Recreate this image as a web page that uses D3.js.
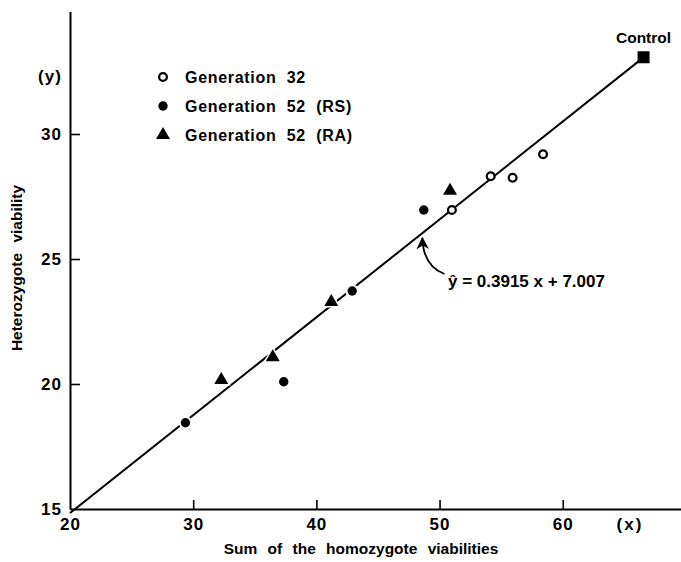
<!DOCTYPE html>
<html>
<head>
<meta charset="utf-8">
<script src="https://cdn.jsdelivr.net/npm/d3@7"></script>
<style>
  body { margin: 0; background: #fff; }
  svg text { font-family: "Liberation Sans", Arial, sans-serif; font-weight: bold; fill: #000; }
</style>
</head>
<body>
<div></div>
<script>
var width = 681;
var height = 562;

// data
var gen32X = [51.0, 54.15, 55.93, 58.4];
var gen32Y = [26.96, 28.31, 28.25, 29.19];
var rsX = [29.37, 37.35, 42.91, 48.72];
var rsY = [18.45, 20.09, 23.72, 26.96];
var raX = [32.28, 36.46, 41.21, 50.85];
var raY = [20.16, 21.07, 23.28, 27.73];
var controlX = 66.56;
var controlY = 33.07;
var slope = 0.3915;
var intercept = 7.007;
var xTicks = [20, 30, 40, 50, 60];
var yTicks = [15, 20, 25, 30];
var legendLabels = ["Generation  32", "Generation  52  (RS)", "Generation  52  (RA)"];

var x = d3.scaleLinear().domain([20, 69.6]).range([70, 681]);
var y = d3.scaleLinear().domain([15, 34.9]).range([509, 11.5]);

var svg = d3.select("div").append("svg")
  .attr("width", width)
  .attr("height", height);

// axes
var xAxis = svg.append("g")
  .attr("transform", "translate(0," + y(15) + ")")
  .call(d3.axisBottom(x).tickValues(xTicks).tickSizeInner(-9).tickSizeOuter(0).tickPadding(9));
var yAxis = svg.append("g")
  .attr("transform", "translate(" + x(20) + ",0)")
  .call(d3.axisLeft(y).tickValues(yTicks).tickSizeInner(-10).tickSizeOuter(0).tickPadding(8));

[xAxis, yAxis].forEach(function(g) {
  g.select(".domain").attr("stroke", "#000").attr("stroke-width", 2);
  g.selectAll(".tick line").attr("stroke", "#000").attr("stroke-width", 1.6);
  g.selectAll(".tick text")
    .attr("font-size", 17)
    .attr("letter-spacing", 1)
    .style("font-family", "'Liberation Sans', Arial, sans-serif");
});
// no tick mark at the origin
xAxis.selectAll(".tick").filter(function(d) { return d === 20; }).select("line").remove();
yAxis.selectAll(".tick").filter(function(d) { return d === 15; }).select("line").remove();

svg.append("text")
  .attr("x", 630).attr("y", y(15) + 21)
  .attr("font-size", 17).attr("text-anchor", "middle").attr("letter-spacing", 2)
  .text("(x)");
svg.append("text")
  .attr("x", 50).attr("y", 82)
  .attr("font-size", 17).attr("text-anchor", "middle").attr("letter-spacing", 1)
  .text("(y)");

svg.append("text")
  .attr("x", 361).attr("y", 554)
  .attr("font-size", 15.5).attr("text-anchor", "middle")
  .attr("word-spacing", 6)
  .text("Sum of the homozygote viabilities");
svg.append("text")
  .attr("transform", "translate(22,268) rotate(-90)")
  .attr("font-size", 15.5).attr("text-anchor", "middle")
  .attr("word-spacing", 6)
  .text("Heterozygote viability");

// regression line
var line = d3.line()
  .x(function(d) { return x(d); })
  .y(function(d) { return y(slope * d + intercept); });
svg.append("path")
  .attr("d", line([20, controlX]))
  .attr("fill", "none")
  .attr("stroke", "#000")
  .attr("stroke-width", 2);

// points
var tri = d3.symbol().type(d3.symbolTriangle).size(85);

svg.selectAll(".g32").data(d3.zip(gen32X, gen32Y)).enter().append("circle")
  .attr("cx", function(d) { return x(d[0]); })
  .attr("cy", function(d) { return y(d[1]); })
  .attr("r", 3.9)
  .attr("fill", "#fff").attr("stroke", "#000").attr("stroke-width", 2.3);

svg.selectAll(".rs").data(d3.zip(rsX, rsY)).enter().append("circle")
  .attr("cx", function(d) { return x(d[0]); })
  .attr("cy", function(d) { return y(d[1]); })
  .attr("r", 4.7)
  .attr("fill", "#000").attr("stroke", "#fff").attr("stroke-width", 4)
  .attr("paint-order", "stroke");

svg.selectAll(".ra").data(d3.zip(raX, raY)).enter().append("path")
  .attr("transform", function(d) { return "translate(" + x(d[0]) + "," + y(d[1]) + ")"; })
  .attr("d", tri)
  .attr("fill", "#000").attr("stroke", "#fff").attr("stroke-width", 3)
  .attr("paint-order", "stroke");

svg.append("rect")
  .attr("x", x(controlX) - 6).attr("y", y(controlY) - 6)
  .attr("width", 12).attr("height", 12)
  .attr("fill", "#000");
svg.append("text")
  .attr("x", x(controlX)).attr("y", 43)
  .attr("font-size", 15.5).attr("text-anchor", "middle")
  .text("Control");

// legend
var legend = svg.selectAll(".legend").data(legendLabels).enter().append("g")
  .attr("transform", function(d, i) { return "translate(163," + (77 + i * 29) + ")"; });
legend.each(function(d, i) {
  var g = d3.select(this);
  if (i === 0) {
    g.append("circle").attr("r", 3.9).attr("fill", "#fff").attr("stroke", "#000").attr("stroke-width", 2.3);
  } else if (i === 1) {
    g.append("circle").attr("r", 4.7).attr("fill", "#000");
  } else {
    g.append("path").attr("d", tri).attr("fill", "#000");
  }
});
legend.append("text")
  .attr("x", 22).attr("y", 6)
  .attr("font-size", 16)
  .attr("letter-spacing", 0.7)
  .style("white-space", "pre")
  .text(function(d) { return d; });

// equation with curved arrow
svg.append("defs").append("marker")
  .attr("id", "head")
  .attr("viewBox", "0 0 10 10")
  .attr("refX", 9).attr("refY", 5)
  .attr("markerWidth", 7).attr("markerHeight", 7)
  .attr("orient", "auto")
  .append("path").attr("d", "M0,0L10,5L0,10L3,5Z").attr("fill", "#000");

var tipX = x(48.6), tipY = y(25.84);
var startX = x(50.4), startY = y(24.4);
svg.append("path")
  .attr("d", "M" + startX + "," + startY + "Q" + (tipX + 1) + "," + (startY - 8) + " " + tipX + "," + tipY)
  .attr("fill", "none").attr("stroke", "#000").attr("stroke-width", 1.8)
  .attr("marker-end", "url(#head)");

svg.append("text")
  .attr("x", 448).attr("y", 287)
  .attr("font-size", 17)
  .text("\u0177 = 0.3915 x + 7.007");
</script>
</body>
</html>
